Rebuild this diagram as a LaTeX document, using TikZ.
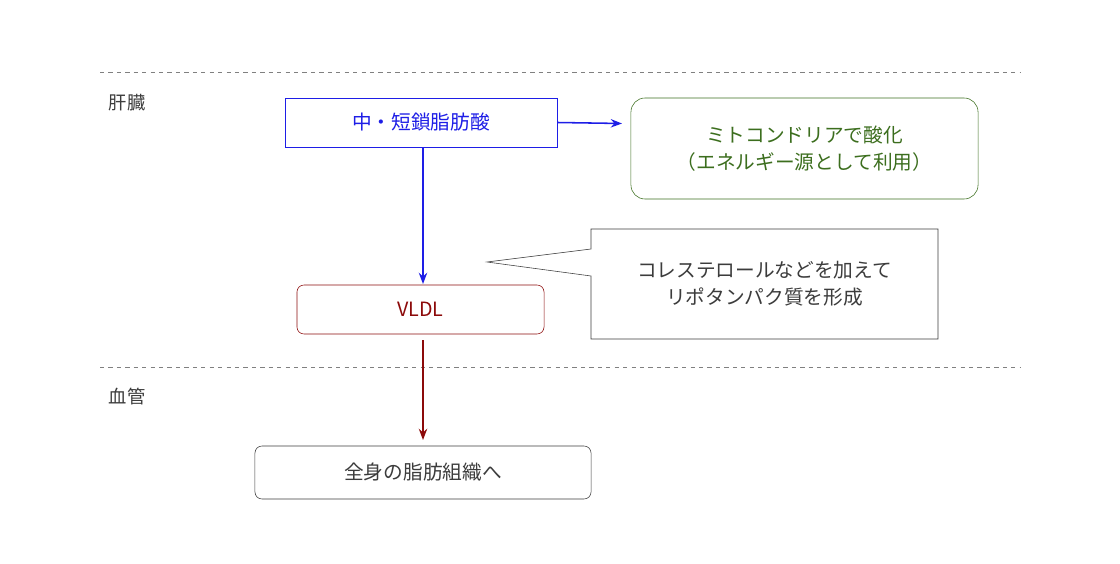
\documentclass[tikz,border=0pt]{standalone}
\usepackage{fontspec}
\usetikzlibrary{arrows.meta}
\setmainfont{Noto Sans CJK JP}
\definecolor{fablue}{RGB}{30,30,230}
\definecolor{fagreen}{RGB}{60,110,30}
\definecolor{fared}{RGB}{140,10,10}
\definecolor{fagray}{RGB}{60,60,60}
\begin{document}
\begin{tikzpicture}[x=0.025cm,y=-0.025cm,
	box/.style={draw, minimum height=1.225cm, font=\fontsize{14}{19}\selectfont, align=center, inner sep=0pt},
	lbl/.style={anchor=west, font=\fontsize{13}{16}\selectfont, text=fagray},
	arr/.style={-{Stealth[length=8pt,width=6pt]}, line width=1.1pt}]
	\useasboundingbox (0,0) rectangle (1120,564);
	\draw[dashed, gray] (100,72) -- (1020,72);
	\draw[dashed, gray] (100,367) -- (1020,367);
	\node[lbl] (liver) at (104,103) {肝臓};
	\node[lbl] (blood) at (104,397) {血管};
	
	\node[box, draw=fablue, text=fablue, minimum width=6.8cm] (fa) at (421,122.5) {中・短鎖脂肪酸};
	\node[box, draw=fagreen, text=fagreen, rounded corners=10pt, minimum width=8.675cm, minimum height=2.525cm] (mito) at (804.5,148.5) {ミトコンドリアで酸化\\（エネルギー源として利用）};
	\node[box, draw=fared, text=fared, rounded corners=5pt, minimum width=6.175cm] (vldl) at (420.5,309.5) {VLDL};
	\node[box, draw=fagray, text=fagray, rounded corners=5pt, minimum width=8.4cm, minimum height=1.325cm] (body) at (423,472.5) {全身の脂肪組織へ};
	
	\draw[fill=white, draw=fagray] (591,229) -- (938,229) -- (938,339) -- (591,339) -- (591,276) -- (487,262) -- (591,249) -- cycle;
	\node[font=\fontsize{14}{19}\selectfont, align=center, text=fagray] (note) at (764.5,284) {コレステロールなどを加えて\\リポタンパク質を形成};
	
	\coordinate (mitoin) at (622,123.5);
	\coordinate (vldlin) at (423,284);
	\coordinate (vldlout) at (423,340);
	\coordinate (bodyin) at (423,440);
	\draw[arr, fablue] (fa.east) -- (mitoin);
	\draw[arr, fablue] (fa.south -| vldlin) -- (vldlin);
	\draw[arr, fared] (vldlout) -- (bodyin);
\end{tikzpicture}
\end{document}
